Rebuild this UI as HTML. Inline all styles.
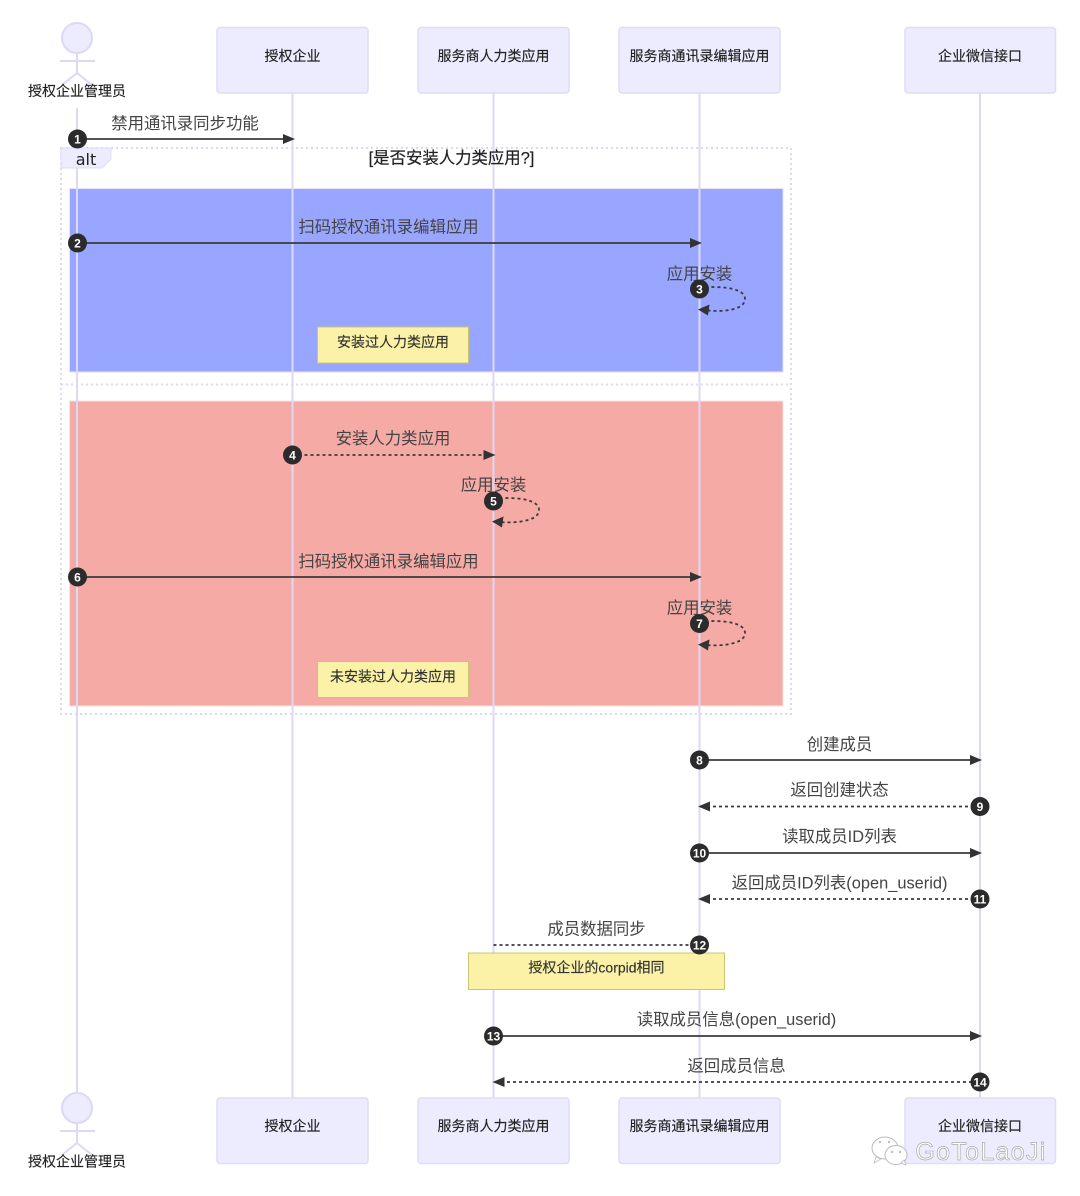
<!DOCTYPE html>
<html><head><meta charset="utf-8"><style>
html,body{margin:0;padding:0;background:#fff}
svg{display:block}
text{font-family:"Liberation Sans","Noto Sans CJK SC",sans-serif;text-anchor:middle}
.m{font-size:16.4px;fill:#444}
.a{font-size:14px;fill:#222;stroke:#222;stroke-width:0.15px}
.n{font-size:14px;fill:#333;stroke:#333;stroke-width:0.15px}
.l{stroke:#ddd8f5;stroke-width:2;fill:none}
.b{fill:#ececfe;stroke:#e0dcf6;stroke-width:1.5}
.nt{fill:#fbf2a8;stroke:#c9c56e;stroke-width:1}
.s{stroke:#3a3a3a;stroke-width:1.8;fill:none}
.d{stroke:#3a3a3a;stroke-width:1.8;fill:none;stroke-dasharray:3 3}
.ah{fill:#333}
.c{fill:#2b2b2b}
.cn{font-size:12px;font-weight:bold;fill:#fff}
.act{fill:#ececfe;stroke:#ddd8f5;stroke-width:2}
.lp{fill:none;stroke:#dcd8f6;stroke-width:2;stroke-dasharray:2 3}
</style></head><body>
<svg width="1080" height="1196" viewBox="0 0 1080 1196" xmlns="http://www.w3.org/2000/svg">
<rect width="1080" height="1196" fill="#fff"/>
<rect x="69.5" y="188.5" width="713.5" height="183.5" fill="#99a6ff" stroke="#e6e3f8" stroke-width="1"/>
<rect x="69.5" y="401" width="713.5" height="305" fill="#f6aaa5" stroke="#f3e4e6" stroke-width="1"/>
<rect x="61" y="148" width="730" height="566" class="lp"/>
<line x1="61" y1="384.500" x2="791" y2="384.500" class="lp"/>

<line x1="77" y1="108" x2="77" y2="1098" class="l"/>
<line x1="292.500" y1="93" x2="292.500" y2="1098" class="l"/>
<line x1="493.500" y1="93" x2="493.500" y2="1098" class="l"/>
<line x1="699.500" y1="93" x2="699.500" y2="1098" class="l"/>
<line x1="980" y1="93" x2="980" y2="1098" class="l"/>

<path d="M61 148H111V159L102 168H61Z" fill="#ececfe" stroke="#e0dcf6" stroke-width="1"/>
<text x="86" y="165" style="font-family:'DejaVu Sans',sans-serif;font-size:16px;fill:#222">alt</text>
<text x="451.500" y="163.500" style="font-size:16.400px;fill:#222;stroke:#222;stroke-width:0.2px">[是否安装人力类应用?]</text>

<g id="top">
<circle cx="77" cy="38" r="15" class="act"/>
<path d="M77 53V73M60 61H95M77 73L62 85M77 73L92 85" class="l"/>
<rect x="217" y="27.500" width="151" height="65.500" rx="3" class="b"/>
<rect x="418" y="27.500" width="151" height="65.500" rx="3" class="b"/>
<rect x="619" y="27.500" width="161" height="65.500" rx="3" class="b"/>
<rect x="905" y="27.500" width="150.500" height="65.500" rx="3" class="b"/>
<text x="77" y="96" class="a">授权企业管理员</text>
<text x="292.500" y="61" class="a">授权企业</text>
<text x="493.500" y="61" class="a">服务商人力类应用</text>
<text x="699.500" y="61" class="a">服务商通讯录编辑应用</text>
<text x="980" y="61" class="a">企业微信接口</text>
</g>
<g id="bottom">
<circle cx="77" cy="1108" r="15" class="act"/>
<path d="M77 1123V1143M60 1131H95M77 1143L62 1155M77 1143L92 1155" class="l"/>
<rect x="217" y="1098" width="151" height="65.500" rx="3" class="b"/>
<rect x="418" y="1098" width="151" height="65.500" rx="3" class="b"/>
<rect x="619" y="1098" width="161" height="65.500" rx="3" class="b"/>
<rect x="905" y="1098" width="150.500" height="65.500" rx="3" class="b"/>
<text x="77" y="1166.500" class="a">授权企业管理员</text>
<text x="292.500" y="1131" class="a">授权企业</text>
<text x="493.500" y="1131" class="a">服务商人力类应用</text>
<text x="699.500" y="1131" class="a">服务商通讯录编辑应用</text>
<text x="980" y="1131" class="a">企业微信接口</text>
</g>

<rect x="317.500" y="327" width="151" height="36" class="nt"/>
<text x="393" y="347" class="n">安装过人力类应用</text>
<rect x="317.500" y="661.500" width="151" height="36" class="nt"/>
<text x="393" y="681.500" class="n">未安装过人力类应用</text>
<rect x="468.500" y="953" width="256" height="36.500" class="nt"/>
<text x="596.500" y="972.500" class="n">授权企业的corpid相同</text>

<text x="185" y="129" class="m">禁用通讯录同步功能</text>
<line x1="77" y1="139" x2="286" y2="139" class="s"/>
<path d="M295 139L283 134V144Z" class="ah"/>
<text x="388.500" y="232.500" class="m">扫码授权通讯录编辑应用</text>
<line x1="77" y1="243" x2="693" y2="243" class="s"/>
<path d="M702 243L690 238V248Z" class="ah"/>
<text x="699.500" y="279.500" class="m">应用安装</text>
<path d="M699.500 288C712 286 745 286 745 299C745 312 714 312 706 310" class="d"/>
<path d="M698 309.500L709.500 304.500L708 315.500Z" class="ah"/>
<text x="393" y="444" class="m">安装人力类应用</text>
<line x1="292.500" y1="455" x2="487" y2="455" class="d"/>
<path d="M495.500 455L483.500 450V460Z" class="ah"/>
<text x="493.500" y="490.500" class="m">应用安装</text>
<path d="M493.500 499C506 497 539 497 539 510C539 523 508 523 500 522" class="d"/>
<path d="M492 521.500L503.500 516.500L502 527.500Z" class="ah"/>
<text x="388.500" y="567" class="m">扫码授权通讯录编辑应用</text>
<line x1="77" y1="577" x2="693" y2="577" class="s"/>
<path d="M702 577L690 572V582Z" class="ah"/>
<text x="699.500" y="613.500" class="m">应用安装</text>
<path d="M699.500 622C712 620 745 620 745 633C745 646 714 646 706 645" class="d"/>
<path d="M698 644.500L709.500 639.500L708 650.500Z" class="ah"/>
<text x="839.500" y="750" class="m">创建成员</text>
<line x1="699.500" y1="760" x2="973" y2="760" class="s"/>
<path d="M982 760L970 755V765Z" class="ah"/>
<text x="839.500" y="795.500" class="m">返回创建状态</text>
<line x1="707" y1="806.500" x2="980" y2="806.500" class="d"/>
<path d="M698 806.500L710 801.500V811.500Z" class="ah"/>
<text x="839.500" y="842" class="m">读取成员ID列表</text>
<line x1="699.500" y1="853" x2="973" y2="853" class="s"/>
<path d="M982 853L970 848V858Z" class="ah"/>
<text x="839.500" y="888.500" class="m">返回成员ID列表(open_userid)</text>
<line x1="707" y1="899" x2="980" y2="899" class="d"/>
<path d="M698 899L710 894V904Z" class="ah"/>
<text x="596.500" y="934.500" class="m">成员数据同步</text>
<line x1="493.500" y1="945" x2="699.500" y2="945" class="d"/>
<text x="736.500" y="1025" class="m">读取成员信息(open_userid)</text>
<line x1="493.500" y1="1036" x2="973" y2="1036" class="s"/>
<path d="M982 1036L970 1031V1041Z" class="ah"/>
<text x="736.500" y="1071.500" class="m">返回成员信息</text>
<line x1="501" y1="1082" x2="980" y2="1082" class="d"/>
<path d="M492.500 1082L504.500 1077V1087Z" class="ah"/>

<g>
<circle cx="77.500" cy="139" r="9.500" class="c"/><text x="77.500" y="143.500" class="cn">1</text>
<circle cx="77.500" cy="243" r="9.500" class="c"/><text x="77.500" y="247.500" class="cn">2</text>
<circle cx="699.500" cy="289" r="9.500" class="c"/><text x="699.500" y="293.500" class="cn">3</text>
<circle cx="292.500" cy="455" r="9.500" class="c"/><text x="292.500" y="459.500" class="cn">4</text>
<circle cx="493.500" cy="501" r="9.500" class="c"/><text x="493.500" y="505.500" class="cn">5</text>
<circle cx="77.500" cy="577" r="9.500" class="c"/><text x="77.500" y="581.500" class="cn">6</text>
<circle cx="699.500" cy="623.500" r="9.500" class="c"/><text x="699.500" y="628" class="cn">7</text>
<circle cx="699.500" cy="760" r="9.500" class="c"/><text x="699.500" y="764.500" class="cn">8</text>
<circle cx="980" cy="806.500" r="9.500" class="c"/><text x="980" y="811" class="cn">9</text>
<circle cx="699.500" cy="853" r="9.500" class="c"/><text x="699.500" y="857.500" class="cn">10</text>
<circle cx="980" cy="899" r="9.500" class="c"/><text x="980" y="903.500" class="cn">11</text>
<circle cx="699.500" cy="945" r="9.500" class="c"/><text x="699.500" y="949.500" class="cn">12</text>
<circle cx="493.500" cy="1036" r="9.500" class="c"/><text x="493.500" y="1040.500" class="cn">13</text>
<circle cx="980" cy="1082" r="9.500" class="c"/><text x="980" y="1086.500" class="cn">14</text>
</g>

<g id="wm">
<ellipse cx="885" cy="1148" rx="13" ry="11" fill="#fff" stroke="#bbb" stroke-width="1"/>
<ellipse cx="896" cy="1155" rx="11" ry="9.500" fill="#fff" stroke="#bbb" stroke-width="1"/>
<path d="M876 1157L874 1163L881 1159Z" fill="#fff" stroke="#bbb" stroke-width="0.800"/>
<path d="M901 1163L906 1165L904 1160Z" fill="#fff" stroke="#bbb" stroke-width="0.800"/>
<circle cx="880" cy="1142" r="1.200" fill="#bbb"/><circle cx="889" cy="1142" r="1.200" fill="#bbb"/>
<circle cx="892" cy="1152" r="1.200" fill="#bbb"/><circle cx="900" cy="1152" r="1.200" fill="#bbb"/>
<text x="981" y="1160" style="font-size:25px;letter-spacing:1.300px;fill:#fff;stroke:#aaa;stroke-width:0.700px">GoToLaoJi</text>
</g>
</svg>
</body></html>
